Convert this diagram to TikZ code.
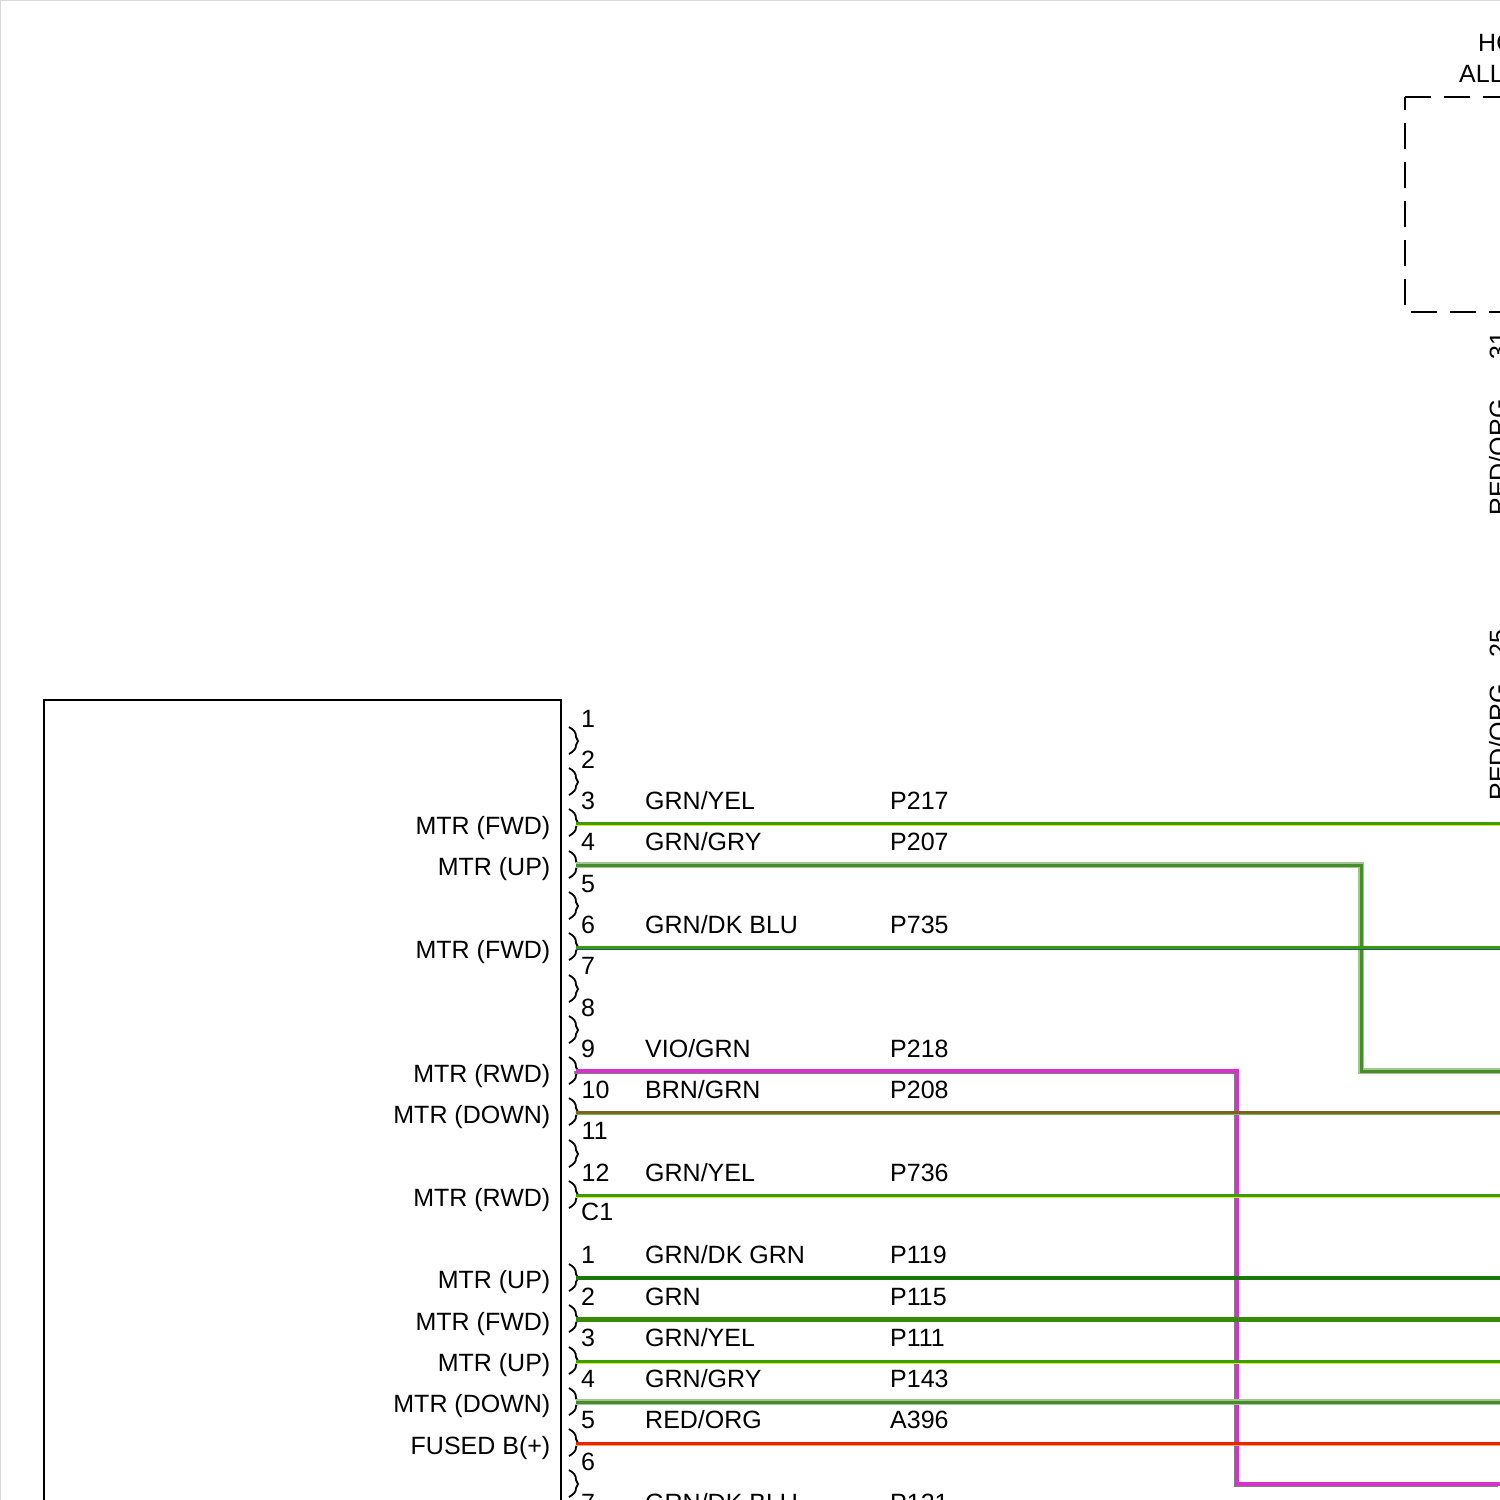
\documentclass[tikz,border=0pt]{standalone}
\usepackage{fontspec}
\setmainfont{Liberation Sans}
\usepackage{tikz}
\usetikzlibrary{positioning}
\definecolor{wgrn}{RGB}{60,155,10}
\definecolor{wgry}{RGB}{70,140,40}
\definecolor{wdkgrn}{RGB}{25,120,10}
\definecolor{wyel}{RGB}{215,240,20}
\definecolor{wvio}{RGB}{215,50,205}
\definecolor{wbrn}{RGB}{125,100,30}
\definecolor{wred}{RGB}{235,35,10}
\definecolor{wblu}{RGB}{25,85,125}
\tikzstyle{lbl}=[anchor=base west,inner sep=0pt,font=\fontsize{25}{28}\selectfont]
\tikzstyle{func}=[anchor=base east,inner sep=0pt,font=\fontsize{25}{28}\selectfont]
\tikzstyle{vert}=[lbl,rotate=90]
\tikzstyle{cup}=[black,line width=1.8pt]
\tikzstyle{dashbox}=[black,line width=1.7pt,dash pattern=on 26pt off 13pt]
\tikzstyle{wire}=[line width=3pt]
\tikzstyle{grncore}=[wire,draw=wgrn]
\tikzstyle{yeledge}=[draw=wyel,line width=3pt]
\tikzstyle{bluedge}=[draw=wblu,line width=1.4pt]
\tikzstyle{grnedge}=[draw=wgrn!70,line width=2.8pt]
\tikzstyle{orgedge}=[draw=orange!70,line width=2.8pt]
\tikzstyle{gryedge}=[draw=gray,line width=3pt]
\tikzstyle{grngry}=[wire,draw=wgry,preaction={draw=wgry!50,line width=5.4pt}]
\tikzstyle{viocore}=[wire,draw=wvio,line width=3.6pt]
\tikzstyle{brncore}=[wire,draw=wbrn]
\tikzstyle{grndk}=[wire,draw=wdkgrn,line width=4.8pt]
\tikzstyle{grnonly}=[wire,draw=wgrn!90!black,line width=5pt]
\tikzstyle{redcore}=[wire,draw=wred]
\newcommand{\pincup}[2]{%
\coordinate (#1) at (576,#2);
\draw[cup] (569,#2-14) .. controls (574,#2-11) and (576,#2-9) .. (576,#2-4) -- (578,#2) -- (576,#2+4) .. controls (576,#2+8) and (574,#2+10) .. (569,#2+13);}
\newcommand{\tracer}[3]{%
\draw[#1] ([yshift=-1.8pt]#2) -- ([yshift=-1.8pt]#3);}
\begin{document}
\begin{tikzpicture}[x=1pt,y=-1pt]
\useasboundingbox (0,0) rectangle (1500,1500);
\clip (0,0) rectangle (1500,1500);
\draw[black!15,line width=1.5pt] (0,1500) -- (0,0) -- (1500,0);
%module box
\draw[black,line width=1.5pt] (44,1510) -- (44,700) -- (561,700) -- (561,1510);
%dashed module
\coordinate (hbl) at (1405,305);
\coordinate (htl) at (1405,97);
\coordinate (htr) at (1500,97);
\coordinate (hbs) at (1411,312);
\coordinate (hbr) at (1500,312);
\draw[dashbox] (hbl) -- (htl);
\draw[dashbox] (htl) -- (htr);
\draw[dashbox] (hbs) -- (hbr);
\node[lbl] (hd1) at (1478,51) {HO};
\node[lbl] (hd2) at (1459,82) {ALL};
\node[vert] (pin31) at (1507,360) {31};
\node[vert] (col31) at (1507,516) {RED/ORG};
\node[vert] (pin25) at (1507,658) {25};
\node[vert] (col25) at (1507,801) {RED/ORG};
%connector cups
\pincup{a1}{741}
\pincup{a2}{782}
\pincup{a3}{823}
\pincup{a4}{865}
\pincup{a5}{906}
\pincup{a6}{947}
\pincup{a7}{989}
\pincup{a8}{1030}
\pincup{a9}{1071}
\pincup{a10}{1112}
\pincup{a11}{1154}
\pincup{a12}{1195}
\pincup{b1}{1278}
\pincup{b2}{1319}
\pincup{b3}{1361}
\pincup{b4}{1402}
\pincup{b5}{1443}
\pincup{b6}{1484}
%right ends
\coordinate (ea3) at (1500,823);
\coordinate (ea4) at (1500,1071);
\coordinate (ka4a) at (1361,865);
\coordinate (ka4b) at (1361,1071);
\coordinate (ea6) at (1500,947);
\coordinate (ka9a) at (1237,1071);
\coordinate (ka9b) at (1237,1484);
\coordinate (ea9) at (1500,1484);
\coordinate (ea10) at (1500,1112);
\coordinate (ea12) at (1500,1195);
\coordinate (eb1) at (1500,1278);
\coordinate (eb2) at (1500,1319);
\coordinate (eb3) at (1500,1361);
\coordinate (eb4) at (1500,1402);
\coordinate (eb5) at (1500,1443);
%wires
\draw[gryedge] ([xshift=-1.6pt,yshift=-1.6pt]a9) -- ([xshift=-1.6pt,yshift=-1.6pt]ka9a) -- ([xshift=-1.6pt,yshift=-1.6pt]ka9b) -- ([xshift=-1.6pt,yshift=-1.6pt]ea9);
\draw[viocore] (a9) -- (ka9a) -- (ka9b) -- (ea9);
\draw[grngry] (a4) -- (ka4a) -- (ka4b) -- (ea4);
\tracer{yeledge}{a3}{ea3}
\draw[grncore] (a3) -- (ea3);
\tracer{bluedge}{a6}{ea6}
\draw[grncore] (a6) -- (ea6);
\tracer{grnedge}{a10}{ea10}
\draw[brncore] (a10) -- (ea10);
\tracer{yeledge}{a12}{ea12}
\draw[grncore] (a12) -- (ea12);
\draw[grndk] (b1) -- (eb1);
\draw[grnonly] (b2) -- (eb2);
\tracer{yeledge}{b3}{eb3}
\draw[grncore] (b3) -- (eb3);
\draw[grngry] (b4) -- (eb4);
\tracer{orgedge}{b5}{eb5}
\draw[redcore] (b5) -- (eb5);
%pin numbers
\node[lbl] (na1) at (581,727) {1};
\node[lbl] (na2) at (581,768) {2};
\node[lbl] (na3) at (581,809) {3};
\node[lbl] (na4) at (581,850) {4};
\node[lbl] (na5) at (581,892) {5};
\node[lbl] (na6) at (581,933) {6};
\node[lbl] (na7) at (581,974) {7};
\node[lbl] (na8) at (581,1016) {8};
\node[lbl] (na9) at (581,1057) {9};
\node[lbl] (na10) at (581.5,1098) {10};
\node[lbl] (na11) at (581.5,1139) {11};
\node[lbl] (na12) at (581.5,1181) {12};
\node[lbl] (conn) at (581,1220) {C1};
\node[lbl] (nb1) at (581,1263) {1};
\node[lbl] (nb2) at (581,1305) {2};
\node[lbl] (nb3) at (581,1346) {3};
\node[lbl] (nb4) at (581,1387) {4};
\node[lbl] (nb5) at (581,1428) {5};
\node[lbl] (nb6) at (581,1470) {6};
\node[lbl] (nb7) at (581,1511) {7};
%wire colours
\node[lbl] (ca3) at (645,809) {GRN/YEL};
\node[lbl] (ca4) at (645,850) {GRN/GRY};
\node[lbl] (ca6) at (645,933) {GRN/DK BLU};
\node[lbl] (ca9) at (645,1057) {VIO/GRN};
\node[lbl] (ca10) at (645,1098) {BRN/GRN};
\node[lbl] (ca12) at (645,1181) {GRN/YEL};
\node[lbl] (cb1) at (645,1263) {GRN/DK GRN};
\node[lbl] (cb2) at (645,1305) {GRN};
\node[lbl] (cb3) at (645,1346) {GRN/YEL};
\node[lbl] (cb4) at (645,1387) {GRN/GRY};
\node[lbl] (cb5) at (645,1428) {RED/ORG};
\node[lbl] (cb7) at (645,1511) {GRN/DK BLU};
%circuit codes
\node[lbl] (ta3) at (890,809) {P217};
\node[lbl] (ta4) at (890,850) {P207};
\node[lbl] (ta6) at (890,933) {P735};
\node[lbl] (ta9) at (890,1057) {P218};
\node[lbl] (ta10) at (890,1098) {P208};
\node[lbl] (ta12) at (890,1181) {P736};
\node[lbl] (tb1) at (890,1263) {P119};
\node[lbl] (tb2) at (890,1305) {P115};
\node[lbl] (tb3) at (890,1346) {P111};
\node[lbl] (tb4) at (890,1387) {P143};
\node[lbl] (tb5) at (890,1428) {A396};
\node[lbl] (tb7) at (890,1511) {P121};
%functions
\node[func] (fa3) at (550.5,834) {MTR (FWD)};
\node[func] (fa4) at (550.5,875) {MTR (UP)};
\node[func] (fa6) at (550.5,958) {MTR (FWD)};
\node[func] (fa9) at (550.5,1082) {MTR (RWD)};
\node[func] (fa10) at (550.5,1123) {MTR (DOWN)};
\node[func] (fa12) at (550.5,1206) {MTR (RWD)};
\node[func] (fb1) at (550.5,1288) {MTR (UP)};
\node[func] (fb2) at (550.5,1330) {MTR (FWD)};
\node[func] (fb3) at (550.5,1371) {MTR (UP)};
\node[func] (fb4) at (550.5,1412) {MTR (DOWN)};
\node[func] (fb5) at (550.5,1454) {FUSED B(+)};
\end{tikzpicture}
\end{document}
